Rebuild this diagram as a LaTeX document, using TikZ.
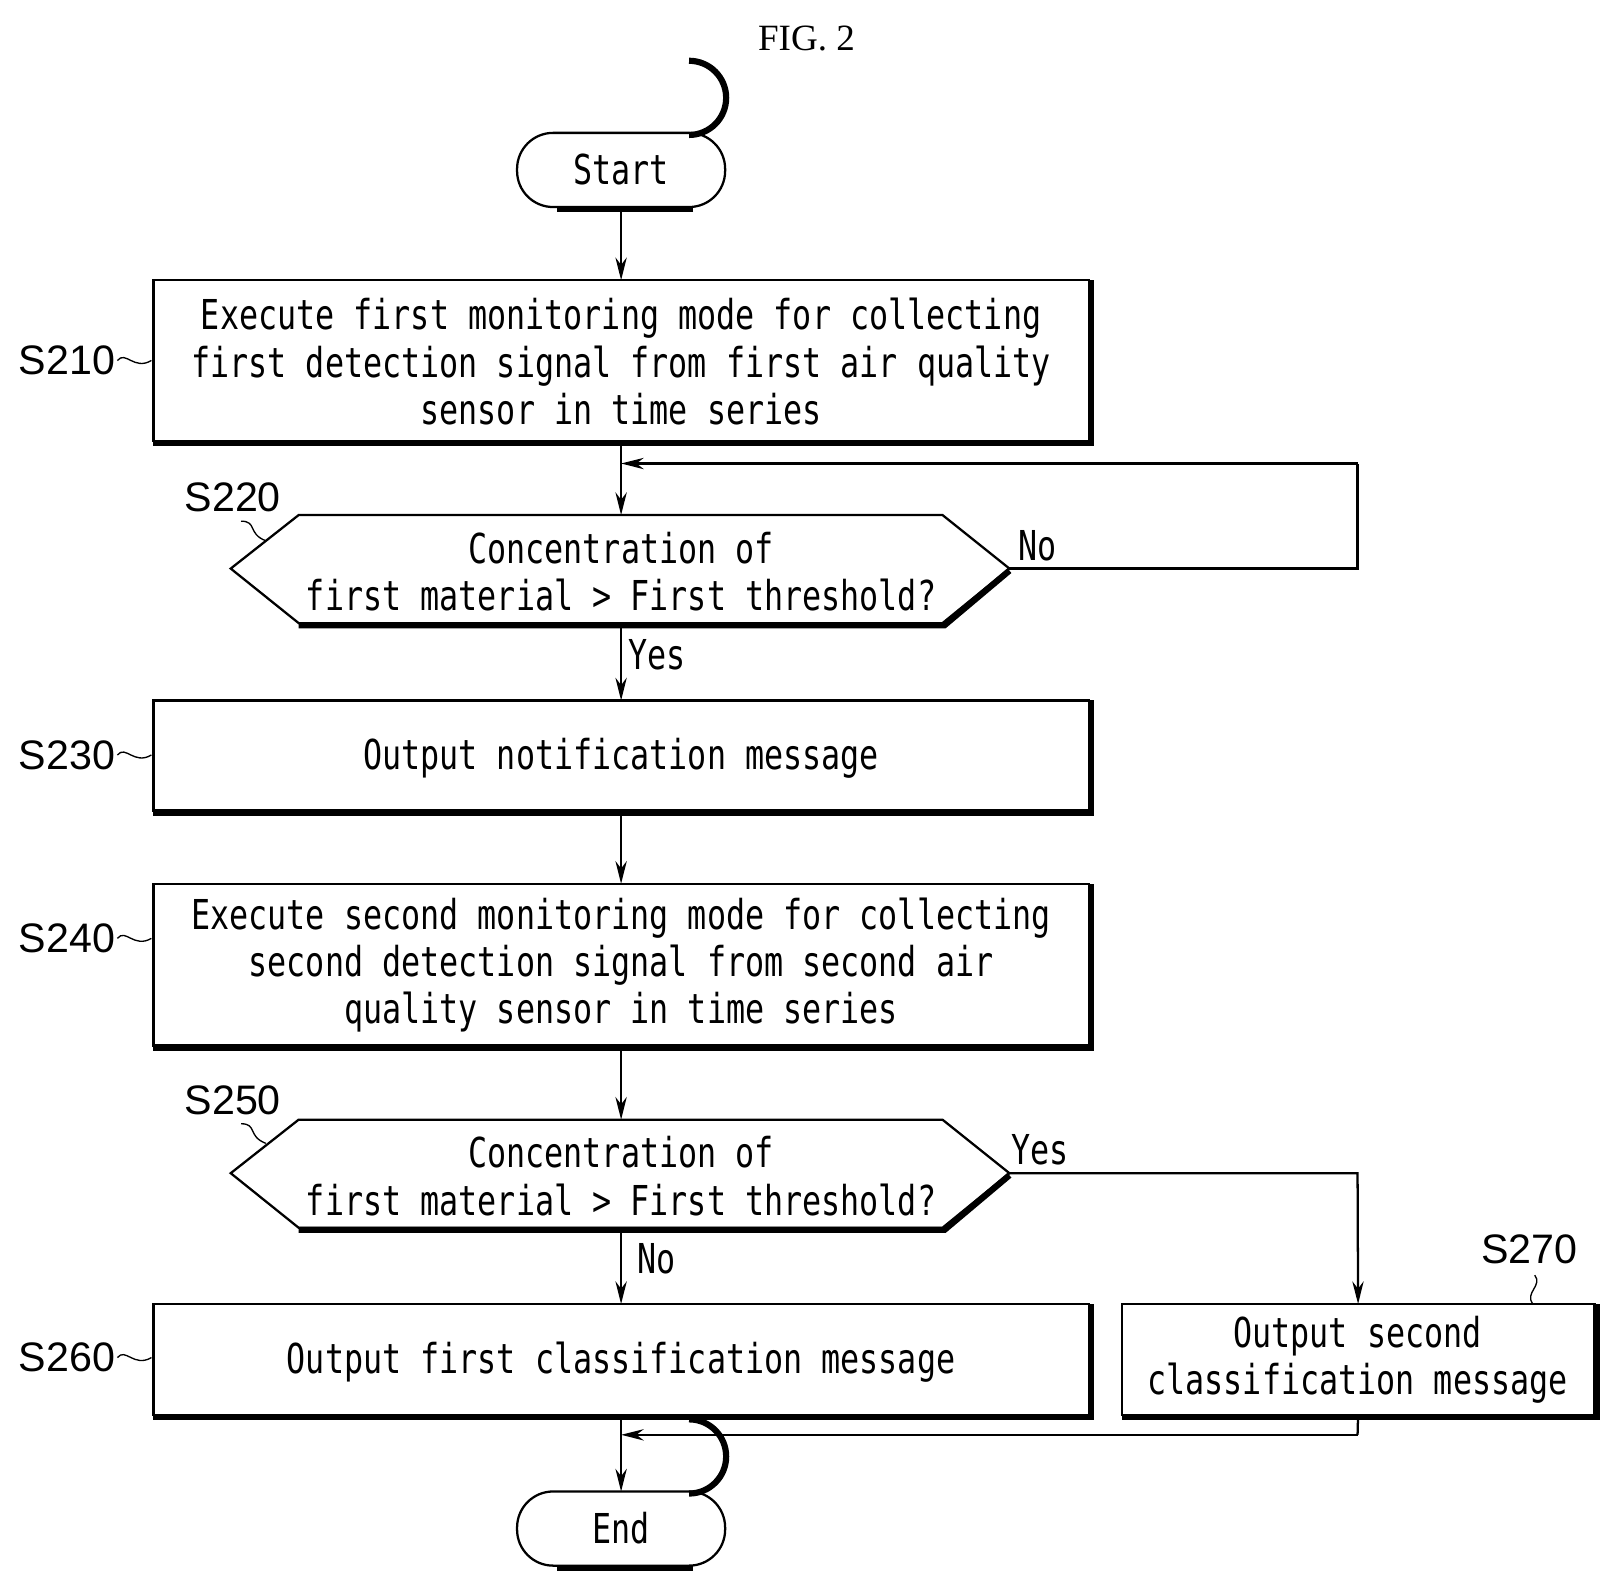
\documentclass[tikz,border=0pt]{standalone}
\usepackage{fontspec}
\setmainfont{Liberation Sans}
\newfontfamily\mono[FakeStretch=0.77]{DejaVu Sans Mono}
\newfontfamily\figf{Liberation Serif}
\usetikzlibrary{arrows.meta}
\begin{document}
\begin{tikzpicture}[x=1pt,y=-1pt,
  txt/.style={font=\mono\fontsize{40}{46}\selectfont,align=center,inner sep=0},
  lab/.style={font=\fontsize{40}{44}\selectfont,inner sep=0},
  ln/.style={line width=2.2pt},
  arr/.style={ln,-{Stealth[length=22pt,width=11pt]}},
  sh/.style={line width=6pt}]
\useasboundingbox (0,0) rectangle (1566,1541);
\node[font=\figf\fontsize{36}{40}\selectfont] (fig) at (783,37) {FIG. 2};
% boxes
\def\bx#1#2#3#4#5{%
  \draw[ln] (#1,#2) rectangle (#3,#4);
  \draw[sh] (#1,#4+2) -- (#3+2,#4+2) -- (#3+2,#2);
  \coordinate (#5n) at ({(#1+#3)/2},#2);
  \coordinate (#5s) at ({(#1+#3)/2},#4);}
\bx{149}{272}{1057}{428}{a}
\bx{149}{680}{1057}{787}{c}
\bx{149}{858}{1057}{1015}{d}
\bx{149}{1266}{1057}{1374}{f}
\bx{1089}{1266}{1548}{1374}{g}
% pills
\def\pill#1#2#3{%
  \draw[sh] (#1+70,#2+36+2) -- (#1+2-64,#2+36+2);
  \draw[sh] (#1+64,#2+38) arc (90:-270:0) ;
  \draw[sh] (#1+66,#2-34) arc (90:-90:36);
  \draw[ln,rounded corners=35pt] (#1-101,#2-36) rectangle (#1+101,#2+36);
  \coordinate (#3n) at (#1,#2-36); \coordinate (#3s) at (#1,#2+36);}
\pill{603}{165}{st}
\pill{603}{1484}{en}
\node[txt] (tst) at (603,165) {Start};
\node[txt] (ten) at (603,1484) {End};
% hexagons
\def\hex#1#2{%
  \draw[ln] (224,#1) -- (290,#1-52) -- (915,#1-52) -- (980,#1) -- (915,#1+53) -- (290,#1+53) -- cycle;
  \draw[sh] (980,#1+2) -- (917,#1+55) -- (290,#1+55);
  \coordinate (#2n) at (603,#1-52); \coordinate (#2s) at (603,#1+53); \coordinate (#2e) at (980,#1);}
\hex{552}{b}
\hex{1139}{e}
% texts
\node[txt] (ta) at (603,351) {Execute first monitoring mode for collecting\\first detection signal from first air quality\\sensor in time series};
\node[txt] (tb) at (603,555) {Concentration of\\first material > First threshold?};
\node[txt] (tc) at (603,736) {Output notification message};
\node[txt] (td) at (603,937) {Execute second monitoring mode for collecting\\second detection signal from second air\\quality sensor in time series};
\node[txt] (te) at (603,1142) {Concentration of\\first material > First threshold?};
\node[txt] (tf) at (603,1322) {Output first classification message};
\node[txt] (tg) at (1318,1320) {Output second\\classification message};
% labels
\foreach \n/\y in {S210/350,S230/733,S240/911,S260/1318}{
  \node[lab,anchor=east] (l\n) at (112,\y) {\n};
  \draw[line width=1.3pt] (114,\y) .. controls (122,\y-10) and (130,\y+10) .. (147,\y);}
\node[lab] (l220) at (226,483) {S220};
\draw[line width=1.3pt] (234,506) .. controls (250,506) and (240,518) .. (258,525);
\node[lab] (l250) at (226,1068) {S250};
\draw[line width=1.3pt] (234,1091) .. controls (250,1091) and (240,1103) .. (258,1110);
\node[lab] (l270) at (1485,1213) {S270};
\draw[line width=1.3pt] (1490,1238) .. controls (1498,1248) and (1480,1255) .. (1488,1266);
\node[txt] (no1) at (1007,530) {No};
\node[txt] (yes1) at (638,636) {Yes};
\node[txt] (no2) at (637,1222) {No};
\node[txt] (yes2) at (1010,1116) {Yes};
% connectors
\coordinate (r1) at (1318,552); \coordinate (r2) at (1318,450); \coordinate (r3) at (603,450);
\coordinate (q1) at (1318,1139);
\coordinate (k1) at (1318,1393); \coordinate (k2) at (603,1393);
\draw[arr] (sts) -- (an);
\draw[arr] (as) -- (bn);
\draw[ln] (be) -- (r1) -- (r2);
\draw[arr] (r2) -- (r3);
\draw[arr] (bs) -- (cn);
\draw[arr] (cs) -- (dn);
\draw[arr] (ds) -- (en);
\draw[arr] (es) -- (fn);
\draw[arr] (ee) -- (q1) -- (gn);
\draw[arr] (fs) -- (enn);
\draw[ln] (gs) -- (k1);
\draw[arr] (k1) -- (k2);
\end{tikzpicture}
\end{document}
